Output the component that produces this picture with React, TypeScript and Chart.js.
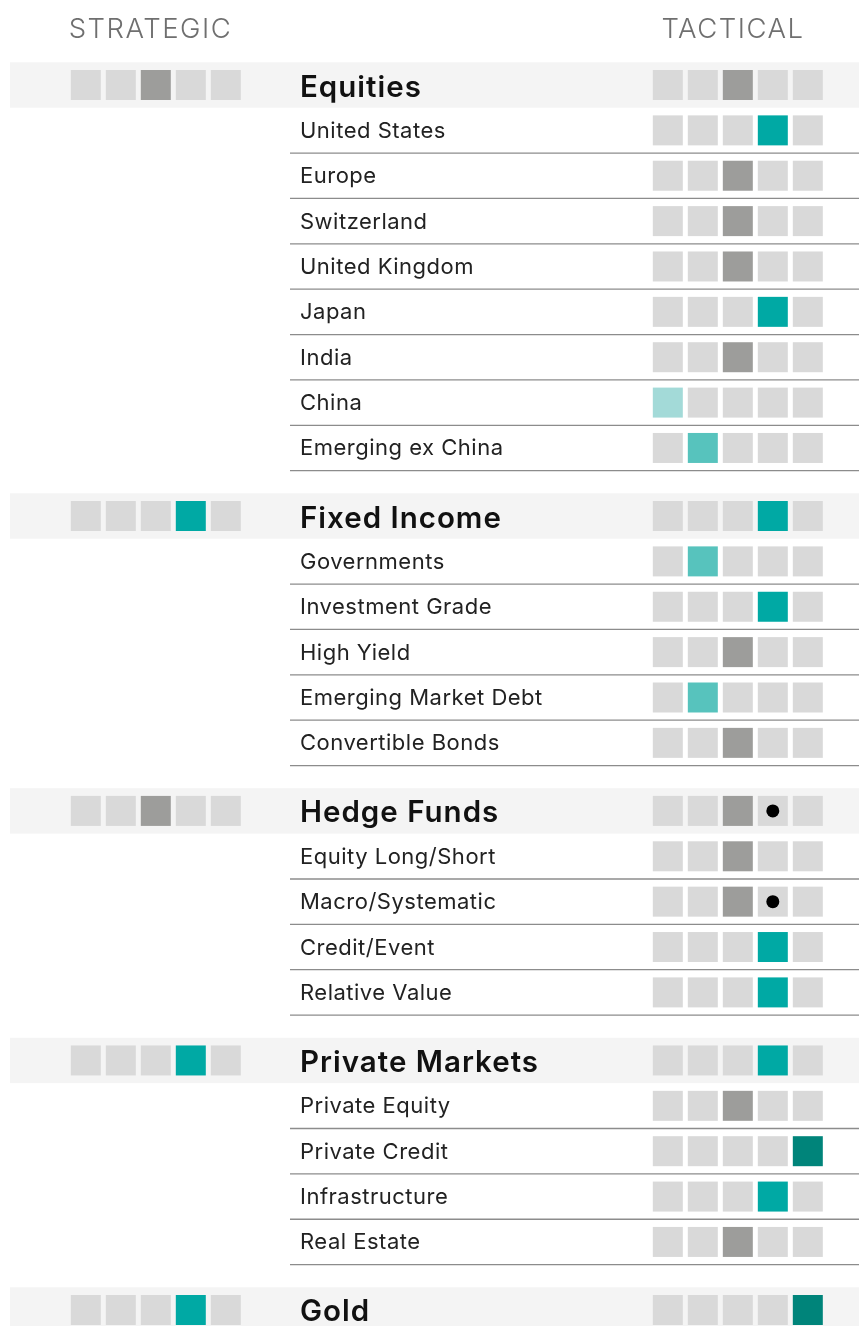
import React, { useEffect, useRef } from "react";
import { Chart, registerables } from "chart.js";

Chart.register(...registerables);

// ---------- data ----------
const CATEGORIES = [
  "Equities",
  "United States",
  "Europe",
  "Switzerland",
  "United Kingdom",
  "Japan",
  "India",
  "China",
  "Emerging ex China",
  "Fixed Income",
  "Governments",
  "Investment Grade",
  "High Yield",
  "Emerging Market Debt",
  "Convertible Bonds",
  "Hedge Funds",
  "Equity Long/Short",
  "Macro/Systematic",
  "Credit/Event",
  "Relative Value",
  "Private Markets",
  "Private Equity",
  "Private Credit",
  "Infrastructure",
  "Real Estate",
  "Gold",
];
const HEADER_ROWS = ["Equities", "Fixed Income", "Hedge Funds", "Private Markets", "Gold"];
const STRATEGIC_LEVELS = [2, 3, 2, 3, 3];
const TACTICAL_LEVELS = [
  2, 3, 2, 2, 2, 3, 2, 0, 1,
  3, 1, 3, 2, 1, 2,
  2, 2, 2, 3, 3,
  3, 2, 4, 3, 2,
  4,
];
const DOT_ROWS = ["Hedge Funds", "Macro/Systematic"];
const DOT_LEVELS = [3, 3];
const COLUMN_TITLES = ["STRATEGIC", "TACTICAL"];
const LEVELS = [0, 1, 2, 3, 4];
const LEVEL_COLORS = ["#a3dad8", "#57c3bd", "#9d9d9b", "#00a9a4", "#00847a"];
const EMPTY_COLOR = "#d9d9d9";

// ---------- layout (scale units) ----------
const W = 859;
const H = 1326;
const COL_PX = 35; // one x unit
const ROW_PX = 45.37; // one y unit
const X_MIN = -85.8 / COL_PX;
const X_MAX = X_MIN + W / COL_PX;
const Y_MIN = -85 / ROW_PX;
const Y_MAX = Y_MIN + H / ROW_PX;
const TACTICAL_OFFSET = 16.629;
const LABEL_X = 6.12;
const RULE_X = 5.834;
const BAND_X = -2.166;
const TITLE_X = [1.82, 18.463];
const TITLE_Y = -1.036;
const GROUP_GAP = 0.5;

const FONT = 'Inter, "Liberation Sans", Arial, sans-serif';

// row positions from structure
const ROW_Y: number[] = [];
{
  let pos = 0;
  CATEGORIES.forEach((c, i) => {
    if (i > 0 && HEADER_ROWS.includes(c)) pos += GROUP_GAP;
    ROW_Y.push(pos);
    pos += 1;
  });
}

export default function App() {
  const canvasRef = useRef<HTMLCanvasElement | null>(null);

  useEffect(() => {
    const canvas = canvasRef.current;
    if (!canvas) return;

    const cells: { x: number; y: number }[] = [];
    const cellColors: string[] = [];
    CATEGORIES.forEach((cat, i) => {
      const y = ROW_Y[i];
      const h = HEADER_ROWS.indexOf(cat);
      if (h >= 0) {
        LEVELS.forEach((L) => {
          cells.push({ x: L, y });
          cellColors.push(L === STRATEGIC_LEVELS[h] ? LEVEL_COLORS[L] : EMPTY_COLOR);
        });
      }
      LEVELS.forEach((L) => {
        cells.push({ x: TACTICAL_OFFSET + L, y });
        cellColors.push(L === TACTICAL_LEVELS[i] ? LEVEL_COLORS[L] : EMPTY_COLOR);
      });
    });

    const dots = DOT_ROWS.map((r, k) => ({
      x: TACTICAL_OFFSET + DOT_LEVELS[k],
      y: ROW_Y[CATEGORIES.indexOf(r)],
    }));

    const setSpacing = (ctx: any, v: string) => {
      if ("letterSpacing" in ctx) ctx.letterSpacing = v;
    };

    const tablePlugin = {
      id: "tableDecor",
      beforeDatasetsDraw(chart: any) {
        const { ctx, scales, chartArea } = chart;
        const xs = scales.x;
        const ys = scales.y;
        ctx.save();
        // header bands
        CATEGORIES.forEach((cat, i) => {
          if (!HEADER_ROWS.includes(cat)) return;
          const top = ys.getPixelForValue(ROW_Y[i] - 0.5);
          const bot = ys.getPixelForValue(ROW_Y[i] + 0.5);
          const left = xs.getPixelForValue(BAND_X);
          ctx.fillStyle = "#f4f4f4";
          ctx.fillRect(left, top, chartArea.right - left, bot - top);
        });
        // rules under sub rows
        ctx.strokeStyle = "#8c8c8c";
        ctx.lineWidth = 1.3;
        CATEGORIES.forEach((cat, i) => {
          if (HEADER_ROWS.includes(cat)) return;
          const yy = ys.getPixelForValue(ROW_Y[i] + 0.5);
          ctx.beginPath();
          ctx.moveTo(xs.getPixelForValue(RULE_X), yy);
          ctx.lineTo(chartArea.right, yy);
          ctx.stroke();
        });
        // column titles
        ctx.fillStyle = "#6f6f6f";
        ctx.font = `300 27.5px ${FONT}`;
        setSpacing(ctx, "1.5px");
        ctx.textAlign = "center";
        ctx.textBaseline = "alphabetic";
        COLUMN_TITLES.forEach((t, k) => {
          ctx.fillText(t, xs.getPixelForValue(TITLE_X[k]) + 1, ys.getPixelForValue(TITLE_Y));
        });
        // row labels
        ctx.textAlign = "left";
        CATEGORIES.forEach((cat, i) => {
          const isHeader = HEADER_ROWS.includes(cat);
          const cy = ys.getPixelForValue(ROW_Y[i]);
          if (isHeader) {
            ctx.fillStyle = "#111111";
            ctx.font = `600 29.5px ${FONT}`;
            setSpacing(ctx, "1px");
            ctx.fillText(cat, xs.getPixelForValue(LABEL_X), cy + 11.5);
          } else {
            ctx.fillStyle = "#222222";
            ctx.font = `400 22px ${FONT}`;
            setSpacing(ctx, "0.5px");
            ctx.fillText(cat, xs.getPixelForValue(LABEL_X), cy + 7.5);
          }
        });
        ctx.restore();
      },
    };

    const chart = new Chart(canvas, {
      type: "scatter",
      data: {
        datasets: [
          {
            label: "dots",
            data: dots,
            order: 0,
            pointStyle: "circle",
            pointRadius: 6.5,
            pointBorderWidth: 0,
            pointBackgroundColor: "#000000",
            borderWidth: 0,
          },
          {
            label: "cells",
            data: cells,
            order: 1,
            pointStyle: "rect",
            pointRadius: 30 / Math.SQRT2,
            pointBorderWidth: 0,
            pointBackgroundColor: cellColors,
            borderWidth: 0,
          },
        ],
      },
      options: {
        animation: false,
        responsive: true,
        maintainAspectRatio: false,
        events: [],
        layout: { padding: 0, autoPadding: false },
        plugins: {
          legend: { display: false },
          tooltip: { enabled: false },
        },
        scales: {
          x: { type: "linear", display: false, min: X_MIN, max: X_MAX },
          y: { type: "linear", display: false, reverse: true, min: Y_MIN, max: Y_MAX },
        },
      },
      plugins: [tablePlugin],
    } as any);

    return () => chart.destroy();
  }, []);

  return (
    <div
      style={{
        position: "fixed",
        left: 0,
        top: 0,
        width: W,
        height: H,
        background: "#ffffff",
      }}
    >
      <canvas ref={canvasRef} />
    </div>
  );
}
